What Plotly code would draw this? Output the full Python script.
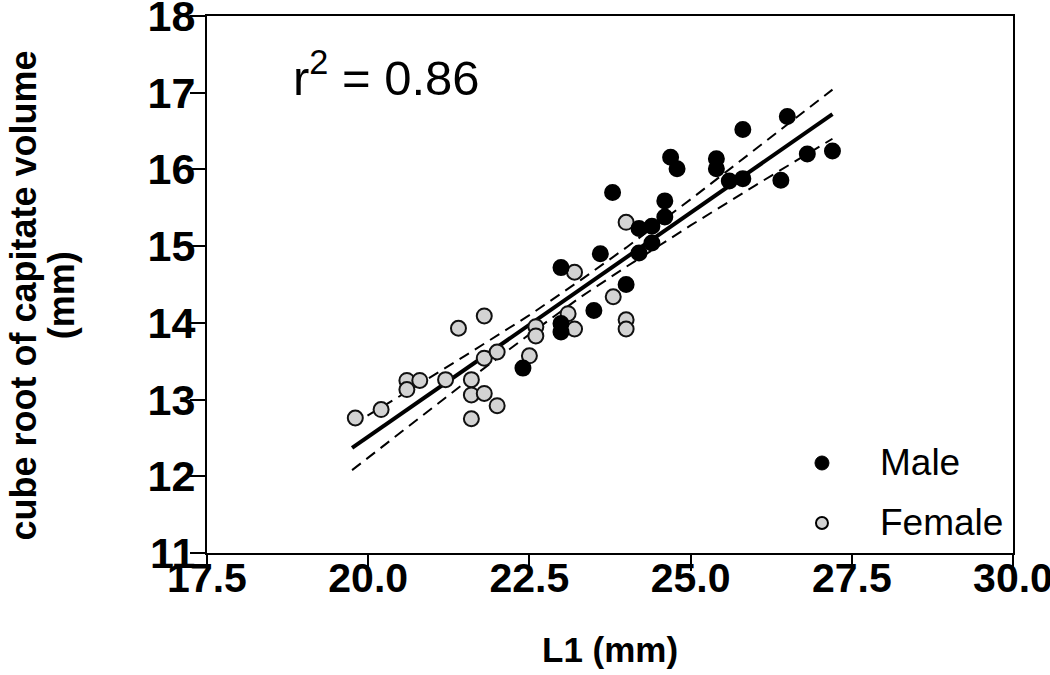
import plotly.graph_objects as go

# Male (black) points
male_x = [22.4, 22.99, 22.99, 22.99, 23.5, 23.6, 23.79, 24.0, 24.2, 24.4, 24.2, 24.4,
          24.6, 24.6, 24.69, 24.79, 25.4, 25.4, 25.6, 25.81, 25.81, 26.4, 26.5, 26.81, 27.2]
male_y = [13.41, 14.72, 13.99, 13.88, 14.16, 14.90, 15.70, 14.50, 15.23, 15.26, 14.91, 15.04,
          15.59, 15.38, 16.16, 16.01, 16.14, 16.01, 15.85, 15.88, 16.52, 15.86, 16.69, 16.20, 16.24]

# Female (grey) points
female_x = [19.8, 20.2, 20.6, 20.6, 20.8, 21.2, 21.4, 21.6, 21.6, 21.6, 21.8, 21.8, 21.8,
            22.0, 22.0, 22.5, 22.6, 22.6, 23.1, 23.2, 23.2, 23.8, 24.0, 24.0, 24.0]
female_y = [12.76, 12.87, 13.25, 13.13, 13.25, 13.26, 13.93, 13.26, 13.06, 12.75, 14.09, 13.08, 13.54,
            12.92, 13.62, 13.57, 13.95, 13.83, 14.12, 14.66, 13.92, 14.34, 14.04, 13.92, 15.31]

# Regression line and 95% confidence band
fit_x = [19.75, 27.2]
fit_y = [12.37, 16.72]
band_x = [19.75, 20.5, 21.5, 22.5, 23.3, 24.0, 25.0, 26.0, 27.2]
band_upper = [12.67, 13.05, 13.57, 14.10, 14.56, 14.98, 15.61, 16.26, 17.04]
band_lower = [12.08, 12.57, 13.22, 13.85, 14.34, 14.73, 15.27, 15.79, 16.40]

x_ticks = [17.5, 20.0, 22.5, 25.0, 27.5, 30.0]
y_ticks = [11, 12, 13, 14, 15, 16, 17, 18]

legend_labels = ["Male", "Female"]

FONT = "Liberation Sans, Arial, Helvetica, sans-serif"
MALE_FILL = "black"
FEMALE_FILL = "#d3d3d3"

fig = go.Figure()

dash_style = dict(color="black", width=2, dash="11px,7px")
fig.add_trace(go.Scatter(x=band_x, y=band_upper, mode="lines", line=dash_style,
                         showlegend=False, hoverinfo="skip"))
fig.add_trace(go.Scatter(x=band_x, y=band_lower, mode="lines", line=dash_style,
                         showlegend=False, hoverinfo="skip"))
fig.add_trace(go.Scatter(x=fit_x, y=fit_y, mode="lines",
                         line=dict(color="black", width=4),
                         showlegend=False, hoverinfo="skip"))

fig.add_trace(go.Scatter(x=female_x, y=female_y, mode="markers", name="Female",
                         marker=dict(size=15, color=FEMALE_FILL,
                                     line=dict(color="#111111", width=2)),
                         showlegend=False))
fig.add_trace(go.Scatter(x=male_x, y=male_y, mode="markers", name="Male",
                         marker=dict(size=15, color=MALE_FILL,
                                     line=dict(color="black", width=2)),
                         showlegend=False))

# r^2 label
fig.add_annotation(x=18.8, y=17.25, xref="x", yref="y", text="r<sup>2</sup> = 0.86",
                   showarrow=False, xanchor="left", yanchor="middle",
                   font=dict(family=FONT, size=49, color="black"))

# y-axis title (two lines)
fig.add_annotation(x=-0.228, y=0.48, xref="paper", yref="paper",
                   text="cube root of capitate volume", textangle=-90,
                   showarrow=False, xanchor="center", yanchor="middle",
                   font=dict(family=FONT, size=36, color="black", weight="bold"))
fig.add_annotation(x=-0.181, y=0.48, xref="paper", yref="paper",
                   text="(mm)", textangle=-90,
                   showarrow=False, xanchor="center", yanchor="middle",
                   font=dict(family=FONT, size=36, color="black", weight="bold"))

# x-axis title
fig.add_annotation(x=0.5, y=-0.18, xref="paper", yref="paper", text="L1 (mm)",
                   showarrow=False, xanchor="center", yanchor="middle",
                   font=dict(family=FONT, size=35, color="black", weight="bold"))

# Custom legend
leg_y = [0.1676, 0.0559]
leg_fill = [MALE_FILL, FEMALE_FILL]
leg_r = [7, 6]
leg_line = [1, 2]
for lab, ly, fc, r, lw in zip(legend_labels, leg_y, leg_fill, leg_r, leg_line):
    fig.add_shape(type="circle", xref="paper", yref="paper",
                  xsizemode="pixel", ysizemode="pixel",
                  xanchor=0.763, yanchor=ly, x0=-r, x1=r, y0=-r, y1=r,
                  fillcolor=fc, line=dict(color="black", width=lw))
    fig.add_annotation(x=0.8325, y=ly, xref="paper", yref="paper", text=lab,
                       showarrow=False, xanchor="left", yanchor="middle",
                       font=dict(family=FONT, size=37, color="black"))

fig.update_layout(
    width=1050, height=675,
    margin=dict(l=207, r=37, t=16, b=122, autoexpand=False),
    plot_bgcolor="white", paper_bgcolor="white",
    showlegend=False,
)

fig.update_xaxes(range=[17.5, 30], tickvals=x_ticks, tickformat=".1f",
                 showline=True, linecolor="black", linewidth=2, mirror=True,
                 ticks="outside", ticklen=16, tickwidth=2, tickcolor="black",
                 showgrid=False, zeroline=False, automargin=False,
                 ticklabelstandoff=-28, ticklabeloverflow="allow",
                 tickfont=dict(family=FONT, size=41, color="black", weight="bold"))
fig.update_yaxes(range=[11, 18], tickvals=y_ticks,
                 showline=True, linecolor="black", linewidth=2, mirror=True,
                 ticks="outside", ticklen=15, tickwidth=2, tickcolor="black",
                 showgrid=False, zeroline=False, automargin=False,
                 ticklabelstandoff=-14, ticklabeloverflow="allow",
                 tickfont=dict(family=FONT, size=43, color="black", weight="bold"))

fig.write_html("out.html", config={"displayModeBar": False},
               post_script="document.body.style.margin='0';document.body.style.overflow='hidden';")
